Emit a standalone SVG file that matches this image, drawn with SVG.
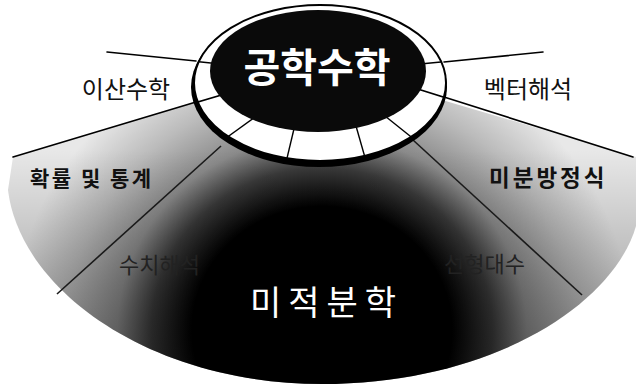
<svg xmlns="http://www.w3.org/2000/svg" width="636" height="388" viewBox="0 0 636 388">
  <style>
    .lbl { font-family: "Noto Sans CJK KR", "Noto Sans", sans-serif; fill: #111; }
    .bold { font-weight: 700; }
    .line { stroke: #000; stroke-width: 1.6; fill: none; stroke-linecap: round; }
    .fanline { stroke: #1a1a1a; stroke-width: 1.6; fill: none; }
    .seg { stroke: #000; stroke-width: 1.4; fill: none; }
  </style>
  <defs>
    <radialGradient id="fanGrad" gradientUnits="userSpaceOnUse" cx="322" cy="330" r="310" gradientTransform="translate(322 330) scale(1 0.95) translate(-322 -330)">
      <stop offset="0" stop-color="#000"/>
      <stop offset="0.42" stop-color="#000"/>
      <stop offset="0.55" stop-color="#3a3a3a"/>
      <stop offset="0.66" stop-color="#8a8a8a"/>
      <stop offset="0.82" stop-color="#bbb"/>
      <stop offset="1" stop-color="#e8e8e8"/>
    </radialGradient>
    <linearGradient id="fanShade" gradientUnits="userSpaceOnUse" x1="0" y1="150" x2="0" y2="384">
      <stop offset="0" stop-color="#000" stop-opacity="0"/>
      <stop offset="1" stop-color="#000" stop-opacity="0.4"/>
    </linearGradient>
    <clipPath id="ringClip">
      <ellipse cx="320" cy="83" rx="126" ry="78"/>
    </clipPath>
  </defs>
  <rect width="636" height="388" fill="#fff"/>

  <g id="fan">
    <path d="M13,157 L320,64 L636,157 L636,226 C615,300 500,383 322,384 C150,384 20,290 8,190 Z" fill="url(#fanGrad)"/>
    <path d="M13,157 L320,64 L636,157 L636,226 C615,300 500,383 322,384 C150,384 20,290 8,190 Z" fill="url(#fanShade)"/>
  </g>

  <g id="connectors">
    <line class="fanline" x1="221" y1="146" x2="57" y2="294"/>
    <line class="fanline" x1="413" y1="140" x2="582" y2="295"/>
  </g>

  <g id="hub">
    <ellipse cx="319" cy="87" rx="128" ry="80" fill="#000"/>
    <ellipse cx="320" cy="83" rx="126" ry="78" fill="#fff" stroke="#000" stroke-width="2"/>
    <g clip-path="url(#ringClip)">
      <line class="seg" x1="215" y1="146" x2="262" y2="112"/>
      <line class="seg" x1="283" y1="175" x2="298" y2="112"/>
      <line class="seg" x1="370" y1="175" x2="352" y2="112"/>
      <line class="seg" x1="425" y1="148" x2="380" y2="112"/>
      <line class="line" x1="107" y1="52" x2="230" y2="65"/>
      <line class="line" x1="13" y1="157" x2="235" y2="91"/>
      <line class="line" x1="543" y1="52" x2="410" y2="65"/>
      <line class="line" x1="633" y1="157" x2="405" y2="85"/>
    </g>
    <ellipse cx="318" cy="71" rx="108" ry="61" fill="#0a0a0a"/>
    <text x="317" y="82" text-anchor="middle" class="lbl bold" style="fill:#fff" font-size="40">공학수학</text>
  </g>

  <g id="outer-lines">
    <line class="line" x1="107" y1="52" x2="196" y2="61"/>
    <line class="line" x1="13" y1="157" x2="196" y2="102"/>
    <line class="line" x1="543" y1="52" x2="444" y2="62"/>
    <line class="line" x1="633" y1="157" x2="444" y2="97"/>
  </g>

  <g id="n-isan"><text x="126" y="98" text-anchor="middle" class="lbl" font-size="24">이산수학</text></g>
  <g id="n-vector"><text x="528" y="98" text-anchor="middle" class="lbl" font-size="24">벡터해석</text></g>
  <g id="n-prob"><text x="30" y="186" class="lbl bold" font-size="21" letter-spacing="2.5">확률 및 통계</text></g>
  <g id="n-diffeq"><text x="489" y="186" class="lbl bold" font-size="22.5" letter-spacing="3">미분방정식</text></g>
  <g id="n-numeric"><text x="119" y="273" class="lbl" style="fill:#222" font-size="22">수치해석</text></g>
  <g id="n-linalg"><text x="525" y="272" text-anchor="end" class="lbl" style="fill:#222" font-size="22">선형대수</text></g>
  <g id="n-calculus"><text x="250" y="315" class="lbl" style="fill:#fff" font-size="34" letter-spacing="7">미적분학</text></g>
</svg>
